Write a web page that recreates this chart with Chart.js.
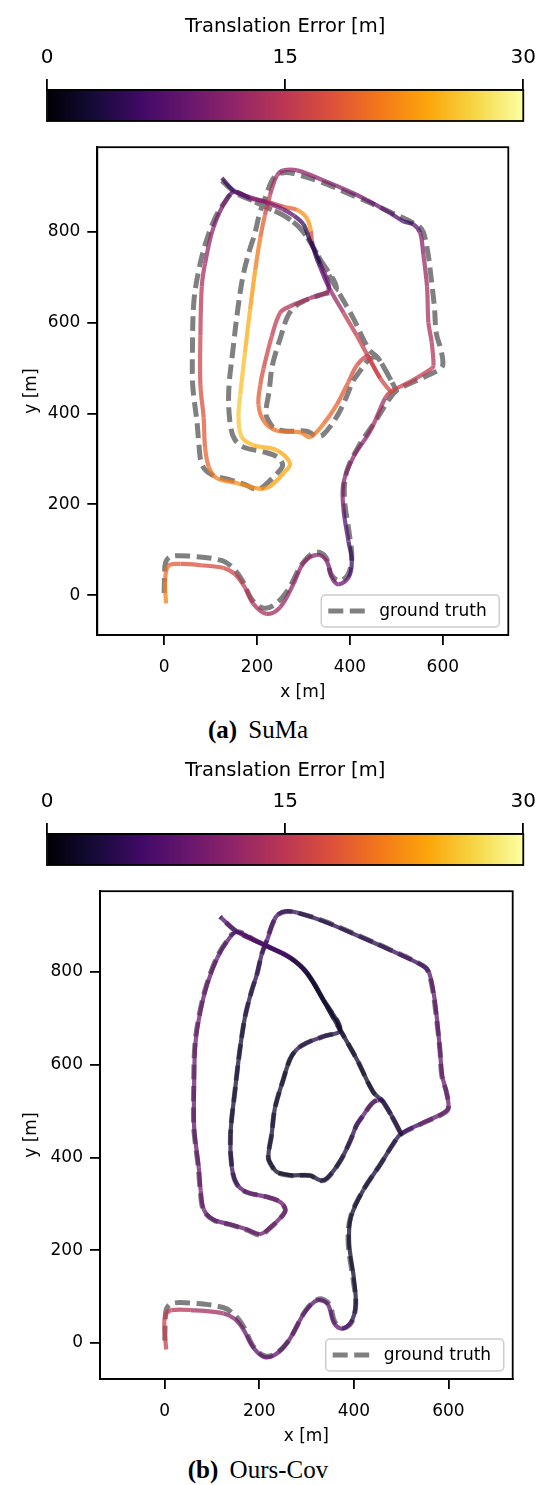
<!DOCTYPE html>
<html>
<head>
<meta charset="utf-8">
<script src="https://cdn.jsdelivr.net/npm/chart.js@4.4.1/dist/chart.umd.min.js"></script>
<style>
  html, body { margin: 0; padding: 0; background: #fff; }
  body { width: 545px; height: 1485px; position: relative; overflow: hidden; }
  canvas { position: absolute; left: 0; }
  .cap { position: absolute; left: 0; width: 516px; text-align: center; color: #000;
         font-family: "Liberation Serif", "Times New Roman", serif; font-size: 25px; line-height: 30px; }
  .cap b { margin-right: 5px; }
</style>
</head>
<body>
<canvas id="cbarA" width="545" height="130" style="top:0px"></canvas>
<canvas id="trajA" width="545" height="580" style="top:130px"></canvas>
<div class="cap" style="top:715px"><b>(a)</b> SuMa</div>
<canvas id="cbarB" width="545" height="130" style="top:744px"></canvas>
<canvas id="trajB" width="545" height="580" style="top:874px"></canvas>
<div class="cap" style="top:1455px"><b>(b)</b> Ours-Cov</div>
<script>
// colour scale
const errMin = 0, errMax = 30;
const cbarTicks = [0, 15, 30];
const xTicks = [0, 200, 400, 600];
const yTicks = [0, 200, 400, 600, 800];

// axis limits per panel [m]
const xRangeA = [-144, 741], yRangeA = [-87.5, 986];
const xRangeB = [-137, 736], yRangeB = [-77.6, 974];

// ground truth path, in driving order [m]
const gtX = [0, 1, 3, 14, 55, 125, 150, 168, 188, 212, 236, 264, 298, 326, 348, 360, 378, 396, 404, 398,
  388, 393, 420, 456, 485, 500, 540, 590, 600, 596, 586, 582, 575, 568, 558, 547, 477, 406, 336, 279,
  258, 241, 230, 216, 205, 195, 184, 170, 159, 149, 139, 142, 152, 173, 216, 244, 255, 244, 223, 202,
  173, 138, 103, 82, 75, 71, 64, 61, 61, 64, 75, 89, 110, 131, 152, 195, 216, 265, 300, 336,
  371, 406, 441, 462, 500, 462, 450, 438, 420, 406, 392, 371, 343, 329, 307, 265, 237, 226, 219, 226,
  233, 251, 265, 279, 300, 336, 371, 336, 300, 265, 216, 195, 152, 117];
const gtY = [5, 45, 72, 85, 86, 76, 58, 33, -8, -28, -22, 8, 70, 95, 84, 45, 32, 46, 85, 140,
  216, 272, 330, 385, 432, 450, 471, 495, 507, 540, 576, 633, 697, 753, 799, 813, 848, 880, 910, 928,
  930, 924, 908, 870, 838, 795, 760, 704, 633, 548, 449, 378, 343, 325, 315, 304, 286, 269, 248, 233,
  244, 255, 265, 286, 329, 378, 435, 470, 548, 647, 718, 774, 831, 866, 887, 866, 856, 831, 799, 739,
  675, 612, 541, 520, 450, 520, 524, 516, 491, 470, 435, 392, 354, 350, 361, 361, 368, 382, 400, 449,
  506, 569, 612, 633, 647, 661, 675, 739, 799, 831, 856, 866, 887, 919];

// SuMa estimate and its translation error [m]
const sumaX = [4, 2, 9, 35, 80, 128, 153, 174, 192, 221, 250, 278, 300, 329, 350, 361, 375, 397, 404, 397,
  386, 386, 408, 444, 476, 488, 530, 576, 580, 576, 569, 566, 558, 551, 537, 515, 487, 436, 400, 343,
  286, 257, 243, 232, 228, 217, 207, 196, 185, 174, 164, 160, 167, 192, 243, 271, 257, 228, 207, 156,
  113, 96, 88, 85, 78, 78, 81, 88, 106, 135, 153, 185, 221, 257, 286, 307, 316, 318, 325, 336,
  354, 386, 415, 440, 465, 488, 465, 440, 436, 415, 397, 372, 343, 314, 293, 243, 214, 203, 207, 214,
  232, 250, 271, 314, 354, 336, 314, 300, 280, 255, 221, 185, 153, 124];
const sumaY = [-18, 31, 65, 69, 66, 60, 46, 17, -19, -41, -26, 24, 71, 89, 75, 39, 24, 39, 75, 118,
  190, 247, 305, 362, 434, 448, 470, 499, 506, 557, 600, 679, 751, 798, 816, 823, 841, 870, 888, 913,
  935, 935, 924, 895, 881, 837, 787, 715, 629, 535, 442, 391, 348, 330, 319, 290, 269, 240, 234, 247,
  258, 283, 326, 391, 463, 571, 679, 730, 809, 873, 888, 873, 866, 855, 848, 830, 801, 780, 751, 722,
  679, 622, 571, 524, 478, 448, 478, 524, 527, 506, 470, 420, 377, 348, 359, 362, 384, 420, 463, 499,
  571, 622, 636, 654, 672, 730, 780, 816, 835, 850, 864, 876, 888, 918];
const sumaErr = [22, 21, 19, 18, 17.5, 17, 16, 15, 14, 13, 12.5, 12, 12, 11, 10, 9, 9.5, 8, 4, 6,
  9, 11, 11, 12, 14, 16, 16, 15, 15, 14, 14, 13, 12, 10, 6, 5, 8, 9, 10, 11,
  12, 12, 13, 13, 14, 18, 20, 22, 24, 25, 26, 26, 25.5, 25, 24, 24, 24, 23, 23, 22,
  21, 20, 19, 18, 17, 16, 14, 13, 11, 9, 6, 10, 14, 17, 21, 24, 22, 12, 3, 6,
  10, 15, 16, 16, 17, 17, 17, 16, 16, 17, 18, 19, 20, 21, 21, 20, 20, 19, 18, 17,
  16, 15, 14, 13, 12, 5, 3, 5, 7, 9, 12, 9, 7, 4];

// Ours-Cov estimate and its translation error [m]
const oursX = [3, -1, 4, 14, 55, 124, 148, 166, 186, 210, 234, 262, 296, 323, 345, 357, 374, 394, 404, 400,
  390, 394, 420, 456, 485, 500, 540, 590, 600, 596, 587, 582, 576, 569, 559, 548, 477, 406, 336, 279,
  258, 241, 230, 217, 205, 195, 184, 170, 159, 149, 139, 142, 153, 174, 216, 244, 255, 244, 223, 202,
  173, 138, 103, 83, 76, 72, 65, 62, 62, 65, 76, 90, 111, 132, 152, 195, 216, 265, 300, 336,
  371, 406, 441, 462, 500, 462, 450, 438, 420, 406, 392, 371, 343, 329, 307, 265, 237, 226, 219, 226,
  233, 251, 265, 279, 300, 336, 371, 336, 300, 265, 216, 195, 152, 117];
const oursY = [-14, 46, 64, 71, 71, 64, 52, 30, -8, -30, -25, 5, 66, 92, 83, 45, 31, 45, 82, 140,
  216, 272, 330, 385, 432, 451, 472, 496, 507, 540, 576, 633, 697, 753, 799, 812, 847, 879, 909, 928,
  931, 925, 909, 870, 838, 795, 760, 704, 633, 548, 449, 378, 342, 325, 315, 304, 286, 269, 249, 235,
  245, 256, 266, 287, 329, 378, 435, 470, 548, 647, 718, 774, 830, 866, 886, 865, 855, 830, 798, 738,
  675, 612, 541, 520, 451, 520, 523, 516, 491, 470, 435, 392, 355, 351, 361, 362, 369, 383, 400, 449,
  506, 569, 612, 633, 647, 661, 675, 739, 799, 831, 856, 866, 887, 919];
const oursErr = [16, 16, 15, 15, 14, 12, 10, 9, 8, 8, 8, 8, 8, 7, 7, 8, 8, 5, 3, 2,
  2, 2, 3, 3, 4, 4, 8, 9, 9, 9, 9, 8, 8, 8, 7, 6, 5, 4, 4, 4,
  5, 6, 7, 6, 5, 4, 4, 3, 3, 3, 3, 4, 6, 8, 9, 9, 9, 9, 9, 9,
  9, 8, 8, 8, 9, 9, 8, 8, 9, 9, 9, 8, 8, 7, 7, 7, 6, 4, 3, 2,
  2, 2, 2, 3, 4, 3, 8, 8, 7, 5, 4, 3, 3, 3, 2, 2, 2, 2, 3, 3,
  3, 2, 2, 3, 4, 4, 3, 2, 3, 5, 7, 7, 7, 7];

// inferno colormap anchors
const inferno = [[0, 0, 4], [22, 11, 57], [66, 10, 104], [106, 23, 110], [147, 38, 103], [188, 55, 84],
  [221, 81, 58], [243, 120, 25], [252, 165, 10], [246, 215, 70], [252, 255, 164]];

function infernoRGB(t) {
  t = Math.min(1, Math.max(0, t));
  const p = t * 10;
  const i = Math.min(9, Math.floor(p));
  const f = p - i;
  const a = inferno[i], b = inferno[i + 1];
  return [0, 1, 2].map(k => Math.round(a[k] + (b[k] - a[k]) * f));
}

function errColor(e, alpha) {
  const c = infernoRGB((e - errMin) / (errMax - errMin));
  return `rgba(${c[0]},${c[1]},${c[2]},${alpha})`;
}

const FONT = 'DejaVu Sans';
const INK = '#000';

// box round the plot area, on all four sides
const framePlugin = {
  id: 'frame',
  afterDraw(chart) {
    const {ctx, chartArea: a} = chart;
    ctx.save();
    ctx.strokeStyle = INK;
    ctx.lineWidth = 1.8;
    ctx.strokeRect(a.left, a.top, a.right - a.left, a.bottom - a.top);
    ctx.restore();
  }
};

// matplotlib-like legend in the lower right corner
const gtLegend = {
  id: 'gtLegend',
  afterDraw(chart) {
    const {ctx, chartArea: a} = chart;
    const ds = chart.data.datasets[1];
    const w = 178, h = 32;
    const x = a.right - 9 - w, y = a.bottom - 8 - h;
    ctx.save();
    ctx.beginPath();
    ctx.roundRect(x, y, w, h, 4);
    ctx.fillStyle = 'rgba(255,255,255,0.8)';
    ctx.fill();
    ctx.strokeStyle = '#cccccc';
    ctx.lineWidth = 1.5;
    ctx.stroke();
    ctx.beginPath();
    ctx.setLineDash(ds.borderDash);
    ctx.moveTo(x + 7, y + h / 2);
    ctx.lineTo(x + 44, y + h / 2);
    ctx.strokeStyle = ds.borderColor;
    ctx.lineWidth = ds.borderWidth;
    ctx.stroke();
    ctx.setLineDash([]);
    ctx.fillStyle = INK;
    ctx.font = '17px "' + FONT + '"';
    ctx.textBaseline = 'middle';
    ctx.fillText(ds.label, x + 58, y + h / 2 + 1);
    ctx.restore();
  }
};

function axisStyle(ticks, pad) {
  return {
    type: 'linear',
    afterBuildTicks: s => { s.ticks = ticks.map(v => ({value: v})); },
    grid: { display: true, drawOnChartArea: false, drawTicks: true, tickLength: 10, color: INK, lineWidth: 1.8 },
    border: { display: true, color: INK, width: 1.8 },
    ticks: { color: INK, font: { family: FONT, size: 17 }, padding: pad, maxRotation: 0, autoSkip: false }
  };
}

function trajChart(id, estX, estY, estErr, xRange, yRange, yAxisW, rightPad) {
  const est = estX.map((x, i) => ({x: x, y: estY[i]}));
  const gt = gtX.map((x, i) => ({x: x, y: gtY[i]}));
  const xs = axisStyle(xTicks, 12), ys = axisStyle(yTicks, 7);
  return new Chart(document.getElementById(id), {
    type: 'scatter',
    data: {
      datasets: [
        {
          label: 'estimate', data: est, showLine: true, pointRadius: 0, borderWidth: 4.2, tension: 0.35,
          borderColor: errColor(estErr[0], 0.75), borderCapStyle: 'butt', borderJoinStyle: 'round',
          segment: { borderColor: c => errColor((estErr[c.p0DataIndex] + estErr[c.p1DataIndex]) / 2, 0.75) },
          order: 0
        },
        {
          label: 'ground truth', data: gt, showLine: true, pointRadius: 0, borderWidth: 5, tension: 0.35,
          borderColor: '#808080', borderDash: [15, 6.5], borderJoinStyle: 'round', order: 1
        }
      ]
    },
    options: {
      responsive: false, animation: false, devicePixelRatio: 1,
      layout: { padding: { left: 10, right: rightPad, top: 8, bottom: 0 } },
      plugins: { legend: { display: false }, tooltip: { enabled: false } },
      scales: {
        x: Object.assign(xs, {
          min: xRange[0], max: xRange[1],
          afterFit: s => { s.height = 75; },
          title: { display: true, text: 'x [m]', color: INK, font: { family: FONT, size: 17 }, padding: { top: 0, bottom: 7 } }
        }),
        y: Object.assign(ys, {
          min: yRange[0], max: yRange[1],
          afterFit: s => { s.width = yAxisW; },
          title: { display: true, text: 'y [m]', color: INK, font: { family: FONT, size: 17 }, padding: { top: 11, bottom: 0 } }
        })
      }
    },
    plugins: [framePlugin, gtLegend]
  });
}

function cbarChart(id) {
  const stops = inferno.map((c, i) => [i / 10, `rgb(${c[0]},${c[1]},${c[2]})`]);
  return new Chart(document.getElementById(id), {
    type: 'bar',
    data: {
      labels: [''],
      datasets: [{
        data: [[cbarTicks[0], cbarTicks[cbarTicks.length - 1]]],
        backgroundColor: c => {
          const a = c.chart.chartArea;
          if (!a) return '#000';
          const g = c.chart.ctx.createLinearGradient(a.left, 0, a.right, 0);
          stops.forEach(s => g.addColorStop(s[0], s[1]));
          return g;
        },
        borderWidth: 0, barPercentage: 1, categoryPercentage: 1
      }]
    },
    options: {
      indexAxis: 'y', responsive: false, animation: false, devicePixelRatio: 1,
      layout: { padding: { left: 47, right: 14, top: 0, bottom: 9 } },
      plugins: { legend: { display: false }, tooltip: { enabled: false } },
      scales: {
        x: {
          type: 'linear', position: 'top', min: errMin, max: errMax,
          afterBuildTicks: s => { s.ticks = cbarTicks.map(v => ({value: v})); },
          afterFit: s => { s.height = 90; },
          grid: { display: true, drawOnChartArea: false, tickLength: 11, color: INK, lineWidth: 1.8 },
          border: { display: true, color: INK, width: 1.8 },
          ticks: { color: INK, font: { family: FONT, size: 20 }, padding: 9, maxRotation: 0, autoSkip: false },
          title: { display: true, text: 'Translation Error [m]', color: INK, font: { family: FONT, size: 19.5 }, padding: { top: 15, bottom: 0 } }
        },
        y: { display: false }
      }
    },
    plugins: [framePlugin]
  });
}

cbarChart('cbarA');
trajChart('trajA', sumaX, sumaY, sumaErr, xRangeA, yRangeA, 87.3, 36.7);
cbarChart('cbarB');
trajChart('trajB', oursX, oursY, oursErr, xRangeB, yRangeB, 90, 32.3);
</script>
</body>
</html>
